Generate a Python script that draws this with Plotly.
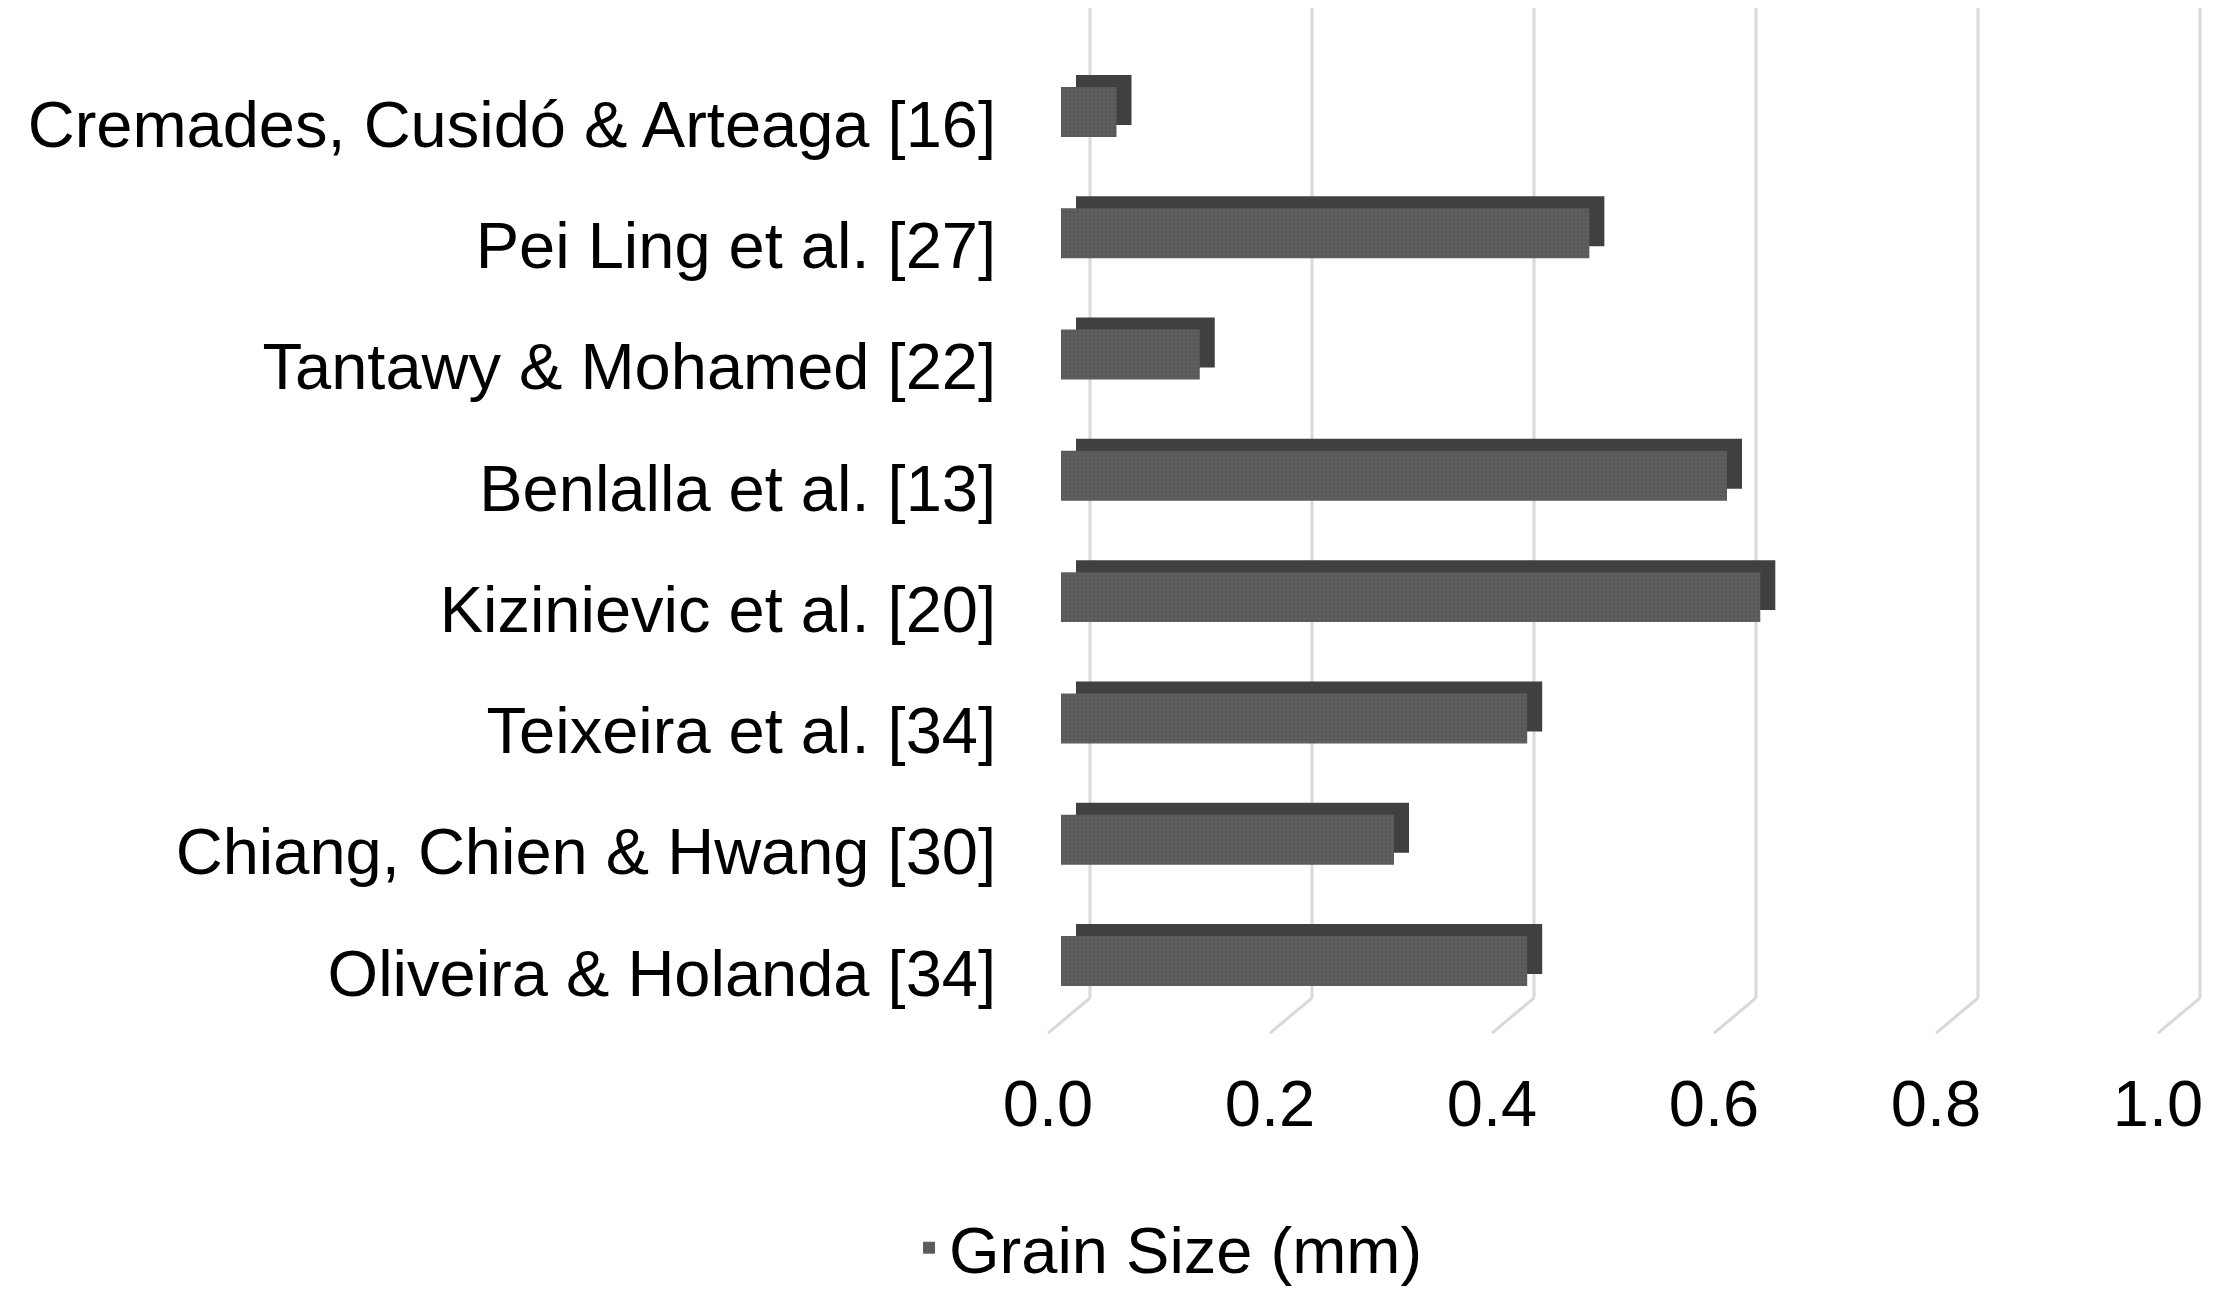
import plotly.graph_objects as go

# ---- data ----
studies = [
    "Cremades, Cusidó & Arteaga [16]",
    "Pei Ling et al. [27]",
    "Tantawy & Mohamed [22]",
    "Benlalla et al. [13]",
    "Kizinievic et al. [20]",
    "Teixeira et al. [34]",
    "Chiang, Chien & Hwang [30]",
    "Oliveira & Holanda [34]",
]
grain_size_mm = [0.05, 0.476, 0.125, 0.60, 0.63, 0.42, 0.30, 0.42]
tick_values = [0.0, 0.2, 0.4, 0.6, 0.8, 1.0]
tick_labels = ["0.0", "0.2", "0.4", "0.6", "0.8", "1.0"]
series_name = "Grain Size (mm)"

# ---- style ----
FONT = "Liberation Sans, Arial, sans-serif"
FS = 65
FRONT = "#595959"
DEPTH = "#404040"
GRID = "#d9d9d9"
PX_PER_UNIT = 1110.0
BACK_SHIFT = 29 / PX_PER_UNIT     # back wall offset
FRONT_SHIFT = -13 / PX_PER_UNIT   # front floor edge offset
DEPTH_SHIFT = 15 / PX_PER_UNIT    # bar depth offset

fig = go.Figure()

# depth (top + side faces) of 3D bars
fig.add_trace(go.Bar(
    x=grain_size_mm, y=studies, orientation="h",
    base=DEPTH_SHIFT, width=0.412, offset=-0.404,
    marker=dict(color=DEPTH, line=dict(width=0)),
    showlegend=False, hoverinfo="skip",
))
# front faces
fig.add_trace(go.Bar(
    x=grain_size_mm, y=studies, orientation="h",
    name=series_name, width=0.412, offset=-0.305,
    marker=dict(color=FRONT, line=dict(width=0),
                pattern=dict(shape=".", fgcolor="#6a6a6a", size=4, solidity=0.35)),
))

# back wall gridlines and floor diagonals derived from the tick values
shapes = []
for t in tick_values:
    shapes.append(dict(type="line", xref="x", yref="paper", layer="below",
                       x0=t + BACK_SHIFT, x1=t + BACK_SHIFT, y0=0, y1=1,
                       line=dict(color=GRID, width=3)))
    shapes.append(dict(type="line", xref="x", yref="paper", layer="below",
                       x0=t + BACK_SHIFT, x1=t + FRONT_SHIFT, y0=0, y1=-0.0354,
                       line=dict(color=GRID, width=3)))

# page has an 8px body margin, so the figure is 8px smaller on each axis
W, H = 2222, 1305
ML, MT, MB = 1022, 0, 315
ZERO_X = 1053
x0 = (ML - ZERO_X) / PX_PER_UNIT
x1 = (W - ZERO_X) / PX_PER_UNIT

fig.update_layout(
    width=W, height=H,
    margin=dict(l=ML, r=0, t=MT, b=MB),
    paper_bgcolor="white", plot_bgcolor="white",
    font=dict(family=FONT, size=FS, color="#000000"),
    barmode="overlay",
    shapes=shapes,
    xaxis=dict(range=[x0, x1], tickvals=tick_values, ticktext=tick_labels,
               showgrid=False, zeroline=False, showline=False,
               ticks="", ticklabelshift=-13, ticklabelstandoff=62,
               tickfont=dict(family=FONT, size=FS, color="#000000")),
    yaxis=dict(categoryorder="array", categoryarray=studies,
               range=[7.206, -0.956], showgrid=False, zeroline=False,
               showline=False, ticks="", ticklabelstandoff=33,
               tickfont=dict(family=FONT, size=FS, color="#000000")),
    legend=dict(orientation="h", x=-0.1008, xanchor="left",
                y=-0.2525, yanchor="middle",
                font=dict(family=FONT, size=FS, color="#000000"),
                bgcolor="rgba(0,0,0,0)"),
)

fig.write_html("out.html")
